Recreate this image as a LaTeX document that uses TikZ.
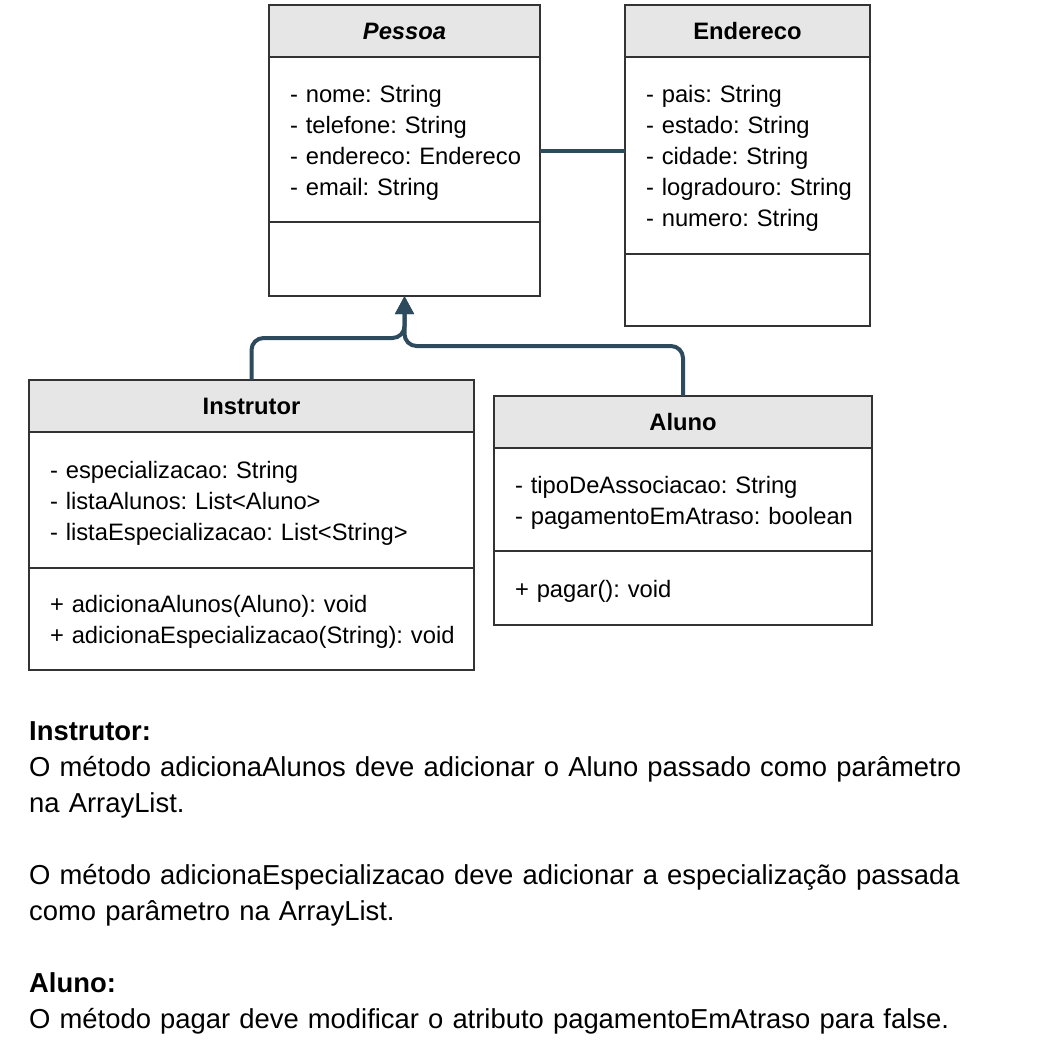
\documentclass[tikz,border=0pt]{standalone}
\usepackage{fontspec}
\setmainfont{Liberation Sans}
\usetikzlibrary{arrows.meta}

\definecolor{headgray}{HTML}{E6E6E6}
\definecolor{linkblue}{HTML}{2D4B5C}
\newcommand{\boxfont}{\fontsize{23.75}{31}\selectfont\frenchspacing}
\newcommand{\notefont}{\fontsize{27.4}{36.1}\selectfont\frenchspacing}

\tikzset{
  classouter/.style={draw=black!80, line width=1.5pt, anchor=north west, inner sep=0pt, outer sep=0pt},
  classhead/.style={classouter, fill=headgray, minimum height=52pt, font=\boxfont\bfseries},
  classpart/.style={classouter, align=left, inner xsep=21pt, font=\boxfont,
    execute at begin node={\rule{0pt}{27.7pt}}},
  inherit/.style={draw=linkblue, line width=4pt, rounded corners=12pt, -{Triangle[length=18pt,width=18pt]}},
  assoc/.style={draw=linkblue, line width=4pt},
}

\begin{document}
\begin{tikzpicture}[x=1pt,y=-1pt]
  \useasboundingbox (0,0) rectangle (1048,1047);

  % Pessoa
  \node[classouter, minimum width=271pt, minimum height=291pt] (pessoa) at (269,5) {};
  \node[classhead, minimum width=271pt] (pessoa-head) at (269,5) {\textit{Pessoa}};
  \node[classpart, text width=229pt, minimum height=165pt] (pessoa-attr) at (269,57)
    {\begin{tabular}[t]{@{}l@{}}- nome: String\\- telefone: String\\- endereco: Endereco\\- email: String\end{tabular}};
  \node[classpart, text width=229pt, minimum height=74pt] (pessoa-meth) at (269,222) {};

  % Endereco
  \node[classouter, minimum width=245pt, minimum height=321pt] (endereco) at (625,5) {};
  \node[classhead, minimum width=245pt] (endereco-head) at (625,5) {Endereco};
  \node[classpart, text width=203pt, minimum height=197pt] (endereco-attr) at (625,57)
    {\begin{tabular}[t]{@{}l@{}}- pais: String\\- estado: String\\- cidade: String\\- logradouro: String\\- numero: String\end{tabular}};
  \node[classpart, text width=203pt, minimum height=72pt] (endereco-meth) at (625,254) {};

  % Instrutor
  \node[classouter, minimum width=445pt, minimum height=290pt] (instrutor) at (29,380) {};
  \node[classhead, minimum width=445pt] (instrutor-head) at (29,380) {Instrutor};
  \node[classpart, text width=403pt, minimum height=136pt] (instrutor-attr) at (29,432)
    {\begin{tabular}[t]{@{}l@{}}- especializacao: String\\- listaAlunos: List<Aluno>\\- listaEspecializacao: List<String>\end{tabular}};
  \node[classpart, text width=403pt, minimum height=102pt] (instrutor-meth) at (29,568)
    {\begin{tabular}[t]{@{}l@{}}+ adicionaAlunos(Aluno): void\\+ adicionaEspecializacao(String): void\end{tabular}};

  % Aluno
  \node[classouter, minimum width=378pt, minimum height=229pt] (aluno) at (494,396) {};
  \node[classhead, minimum width=378pt] (aluno-head) at (494,396) {Aluno};
  \node[classpart, text width=336pt, minimum height=103pt] (aluno-attr) at (494,448)
    {\begin{tabular}[t]{@{}l@{}}- tipoDeAssociacao: String\\- pagamentoEmAtraso: boolean\end{tabular}};
  \node[classpart, text width=336pt, minimum height=74pt] (aluno-meth) at (494,551)
    {\begin{tabular}[t]{@{}l@{}}+ pagar(): void\end{tabular}};

  % ligacoes
  \path[assoc] (pessoa.east) -- (endereco.west |- pessoa.east);
  \path[inherit] (instrutor.north) -- ++(0,-42) -| (pessoa.south);
  \path[inherit] (aluno.north) -- ++(0,-50) -| (pessoa.south);

  % descricao
  \node[anchor=north west, inner sep=0pt, text width=1000pt, align=left, font=\notefont] (notas) at (29,721)
    {\textbf{Instrutor:}\\
     O método adicionaAlunos deve adicionar o Aluno passado como parâmetro\\
     na ArrayList.\\[36.1pt]
     O método adicionaEspecializacao deve adicionar a especialização passada\\
     como parâmetro na ArrayList.\\[36.1pt]
     \textbf{Aluno:}\\
     O método pagar deve modificar o atributo pagamentoEmAtraso para false.};
\end{tikzpicture}
\end{document}
